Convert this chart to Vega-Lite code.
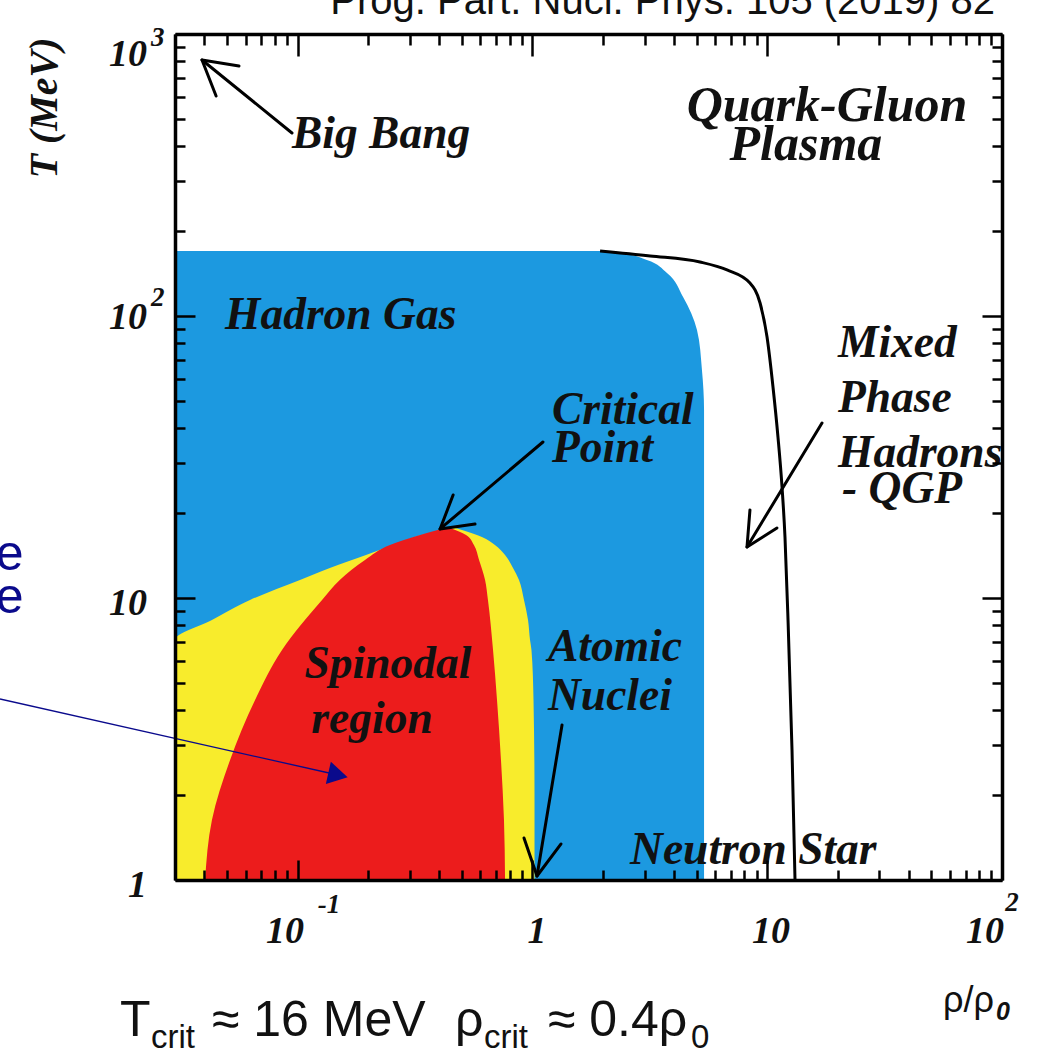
{
  "$schema": "https://vega.github.io/schema/vega-lite/v6.json",
  "width": 827,
  "height": 846,
  "autosize": {"type": "none"},
  "padding": {"left": 175, "top": 34, "right": 60, "bottom": 176},
  "background": "white",
  "config": {"view": {"stroke": null}},
  "datasets": {
    "blue": [
      {"T": 1, "lo": 0.03, "hi": 5.38},
      {"T": 46.4, "lo": 0.03, "hi": 5.38},
      {"T": 64.4, "lo": 0.03, "hi": 5.27},
      {"T": 89.2, "lo": 0.03, "hi": 5.02},
      {"T": 116.8, "lo": 0.03, "hi": 4.38},
      {"T": 142.1, "lo": 0.03, "hi": 3.74},
      {"T": 158, "lo": 0.03, "hi": 3.07},
      {"T": 166, "lo": 0.03, "hi": 2.48},
      {"T": 170.1, "lo": 0.03, "hi": 1.94}
    ],
    "yellow": [
      {"T": 1, "lo": 0.03, "hi": 1.02},
      {"T": 1.922, "lo": 0.03, "hi": 1.02},
      {"T": 4.35, "lo": 0.03, "hi": 1.01},
      {"T": 6.54, "lo": 0.03, "hi": 0.99},
      {"T": 7.1, "lo": 0.03, "hi": 0.976},
      {"T": 8.36, "lo": 0.0431, "hi": 0.957},
      {"T": 9.84, "lo": 0.0626, "hi": 0.92},
      {"T": 11.58, "lo": 0.1022, "hi": 0.876},
      {"T": 12.78, "lo": 0.137, "hi": 0.826},
      {"T": 14.21, "lo": 0.1953, "hi": 0.764},
      {"T": 15.41, "lo": 0.2546, "hi": 0.692},
      {"T": 16.46, "lo": 0.316, "hi": 0.609},
      {"T": 17.42, "lo": 0.404, "hi": 0.501},
      {"T": 17.86, "lo": 0.432, "hi": 0.454}
    ],
    "red": [
      {"T": 1, "lo": 0.0403, "hi": 0.764},
      {"T": 1.632, "lo": 0.0431, "hi": 0.756},
      {"T": 2.665, "lo": 0.0515, "hi": 0.734},
      {"T": 4.35, "lo": 0.0658, "hi": 0.706},
      {"T": 6.54, "lo": 0.0857, "hi": 0.679},
      {"T": 9.84, "lo": 0.1269, "hi": 0.646},
      {"T": 11.58, "lo": 0.151, "hi": 0.628},
      {"T": 13.64, "lo": 0.1934, "hi": 0.592},
      {"T": 15.41, "lo": 0.247, "hi": 0.563},
      {"T": 16.73, "lo": 0.332, "hi": 0.521},
      {"T": 17.71, "lo": 0.424, "hi": 0.4455}
    ],
    "boundary": [
      {"x": 1.94, "T": 170.1},
      {"x": 3.17, "T": 163.3},
      {"x": 5.17, "T": 155.4},
      {"x": 6.74, "T": 145.6},
      {"x": 8.44, "T": 130.9},
      {"x": 9.32, "T": 111.2},
      {"x": 9.98, "T": 84.2},
      {"x": 10.58, "T": 56.0},
      {"x": 11.11, "T": 37.2},
      {"x": 11.56, "T": 24.75},
      {"x": 11.9, "T": 16.46},
      {"x": 12.26, "T": 8.36},
      {"x": 12.75, "T": 2.89},
      {"x": 13.13, "T": 1}
    ],
    "arrows": [
      {"id": "bb_shaft", "o": 1, "x": 0.0945, "T": 445.6},
      {"id": "bb_shaft", "o": 2, "x": 0.0391, "T": 808.9},
      {"id": "bb_head", "o": 1, "x": 0.0449, "T": 602.8},
      {"id": "bb_head", "o": 2, "x": 0.0391, "T": 808.9},
      {"id": "bb_head", "o": 3, "x": 0.0562, "T": 770.1},
      {"id": "cp_shaft", "o": 1, "x": 1.108, "T": 35.74},
      {"id": "cp_shaft", "o": 2, "x": 0.404, "T": 17.57},
      {"id": "cp_head", "o": 1, "x": 0.459, "T": 23.19},
      {"id": "cp_head", "o": 2, "x": 0.404, "T": 17.57},
      {"id": "cp_head", "o": 3, "x": 0.569, "T": 18.3},
      {"id": "mp_shaft", "o": 1, "x": 17.11, "T": 41.75},
      {"id": "mp_shaft", "o": 2, "x": 8.2, "T": 15.17},
      {"id": "mp_head", "o": 1, "x": 8.44, "T": 20.52},
      {"id": "mp_head", "o": 2, "x": 8.2, "T": 15.17},
      {"id": "mp_head", "o": 3, "x": 11.0, "T": 17.71},
      {"id": "an_shaft", "o": 1, "x": 1.336, "T": 3.545},
      {"id": "an_shaft", "o": 2, "x": 1.045, "T": 1.033},
      {"id": "an_head", "o": 1, "x": 1.323, "T": 1.342},
      {"id": "an_head", "o": 2, "x": 1.045, "T": 1.033},
      {"id": "an_head", "o": 3, "x": 0.92, "T": 1.409}
    ],
    "pointer": [
      {"o": 1, "x": 0.00539, "T": 4.385},
      {"o": 2, "x": 0.1484, "T": 2.357}
    ],
    "pointerHead": [
      {"x": 0.1484, "T": 2.357}
    ],
    "leftLabels": [
      {"text": "Big Bang", "x": 0.0945, "T": 394},
      {"text": "Hadron Gas", "x": 0.049, "T": 89.96},
      {"text": "Critical", "x": 1.211, "T": 41.4},
      {"text": "Point", "x": 1.211, "T": 30.36},
      {"text": "Mixed", "x": 20.02, "T": 71.55},
      {"text": "Phase", "x": 20.02, "T": 45.66},
      {"text": "Hadrons", "x": 20.02, "T": 29.14},
      {"text": "- QGP", "x": 20.82, "T": 21.73},
      {"text": "Atomic", "x": 1.164, "T": 5.98},
      {"text": "Nuclei", "x": 1.164, "T": 4.01},
      {"text": "Neutron Star", "x": 2.603, "T": 1.14}
    ],
    "centerLabels": [
      {"text": "Spinodal", "x": 0.2424, "T": 5.204},
      {"text": "region", "x": 0.2072, "T": 3.321}
    ],
    "bigLabels": [
      {"text": "Quark-Gluon", "x": 17.97, "T": 491.5},
      {"text": "Plasma", "x": 14.62, "T": 357.5}
    ],
    "yTickBase": [
      {"text": "10", "x": 0.0228, "T": 842.5},
      {"text": "10", "x": 0.0228, "T": 98.4},
      {"text": "10", "x": 0.0228, "T": 9.52},
      {"text": "1", "x": 0.0228, "T": 0.952}
    ],
    "yTickSup": [
      {"text": "3", "x": 0.0237, "T": 968},
      {"text": "2", "x": 0.0237, "T": 115.8}
    ],
    "xTickBase": [
      {"text": "10", "x": 0.0883, "T": 0.654},
      {"text": "1", "x": 1.045, "T": 0.654},
      {"text": "10", "x": 10.38, "T": 0.654},
      {"text": "10", "x": 84.6, "T": 0.654}
    ],
    "xTickSup": [
      {"text": "-1", "x": 0.136, "T": 0.815},
      {"text": "2", "x": 110.3, "T": 0.829}
    ],
    "yTitle": [
      {"text": "T (MeV)", "x": 0.00838, "T": 546.6}
    ],
    "citation": [
      {"text": "Prog. Part. Nucl. Phys. 105 (2019) 82", "x": 93.4, "T": 1177}
    ],
    "formulaMain": [
      {"text": "T", "x": 0.0175, "T": 0.2798},
      {"text": "≈ 16 MeV", "x": 0.0431, "T": 0.2798},
      {"text": "ρ", "x": 0.4677, "T": 0.2798},
      {"text": "≈ 0.4ρ", "x": 1.164, "T": 0.2798}
    ],
    "formulaSub": [
      {"text": "crit", "x": 0.0237, "T": 0.2537},
      {"text": "crit", "x": 0.6216, "T": 0.2537},
      {"text": "0", "x": 4.73, "T": 0.2537}
    ],
    "xTitle": [
      {"text": "ρ/ρ", "x": 92.5, "T": 0.34}
    ],
    "xTitleSub": [
      {"text": "0", "x": 94.3, "T": 0.3188}
    ],
    "sideNote": [
      {"text": "e", "x": 0.0068, "T": 12.57},
      {"text": "e", "x": 0.0068, "T": 8.85}
    ]
  },
  "encoding": {
    "x": {"field": "x", "type": "quantitative", "scale": {"type": "log", "domain": [0.03, 100], "nice": false}, "axis": null},
    "y": {"field": "T", "type": "quantitative", "scale": {"type": "log", "domain": [1, 1000], "nice": false}, "axis": null}
  },
  "layer": [
    {
      "data": {"name": "blue"},
      "mark": {"type": "area", "orient": "horizontal", "interpolate": "monotone", "color": "#1c99e0", "clip": true},
      "encoding": {
        "x": {"field": "lo", "type": "quantitative", "scale": {"type": "log", "domain": [0.03, 100], "nice": false},
          "axis": {"orient": "bottom", "values": [0.03,0.04,0.05,0.06,0.07,0.08,0.09,0.1,0.2,0.3,0.4,0.5,0.6,0.7,0.8,0.9,1,2,3,4,5,6,7,8,9,10,20,30,40,50,60,70,80,90,100],
            "labels": false, "title": null, "grid": false, "domain": true, "domainColor": "black", "domainWidth": 3.5,
            "tickColor": "black", "tickWidth": 2.5,
            "tickSize": {"condition": {"test": "datum.value==0.1||datum.value==1||datum.value==10||datum.value==100", "value": -20}, "value": -10},
            "zindex": 2}},
        "x2": {"field": "hi"},
        "y": {"field": "T", "type": "quantitative", "scale": {"type": "log", "domain": [1, 1000], "nice": false},
          "axis": {"orient": "left", "values": [1,2,3,4,5,6,7,8,9,10,20,30,40,50,60,70,80,90,100,200,300,400,500,600,700,800,900,1000],
            "labels": false, "title": null, "grid": false, "domain": true, "domainColor": "black", "domainWidth": 3.5,
            "tickColor": "black", "tickWidth": 2.5,
            "tickSize": {"condition": {"test": "datum.value==1||datum.value==10||datum.value==100||datum.value==1000", "value": -20}, "value": -10},
            "zindex": 2}}
      }
    },
    {
      "data": {"name": "yellow"},
      "mark": {"type": "area", "orient": "horizontal", "interpolate": "monotone", "color": "#f8ec2c", "clip": true},
      "encoding": {
        "x": {"field": "lo", "type": "quantitative", "scale": {"type": "log", "domain": [0.03, 100], "nice": false},
          "axis": {"orient": "top", "values": [0.03,0.04,0.05,0.06,0.07,0.08,0.09,0.1,0.2,0.3,0.4,0.5,0.6,0.7,0.8,0.9,1,2,3,4,5,6,7,8,9,10,20,30,40,50,60,70,80,90,100],
            "labels": false, "title": null, "grid": false, "domain": true, "domainColor": "black", "domainWidth": 3.5,
            "tickColor": "black", "tickWidth": 2.5,
            "tickSize": {"condition": {"test": "datum.value==0.1||datum.value==1||datum.value==10||datum.value==100", "value": -22}, "value": -11},
            "zindex": 2}},
        "x2": {"field": "hi"},
        "y": {"field": "T", "type": "quantitative", "scale": {"type": "log", "domain": [1, 1000], "nice": false},
          "axis": {"orient": "right", "values": [1,2,3,4,5,6,7,8,9,10,20,30,40,50,60,70,80,90,100,200,300,400,500,600,700,800,900,1000],
            "labels": false, "title": null, "grid": false, "domain": true, "domainColor": "black", "domainWidth": 3.5,
            "tickColor": "black", "tickWidth": 2.5,
            "tickSize": {"condition": {"test": "datum.value==1||datum.value==10||datum.value==100||datum.value==1000", "value": -20}, "value": -10},
            "zindex": 2}}
      }
    },
    {
      "data": {"name": "red"},
      "mark": {"type": "area", "orient": "horizontal", "interpolate": "monotone", "color": "#ec1c1c", "clip": true},
      "encoding": {
        "x": {"field": "lo", "type": "quantitative", "scale": {"type": "log", "domain": [0.03, 100], "nice": false}, "axis": null},
        "x2": {"field": "hi"}
      }
    },
    {
      "data": {"name": "boundary"},
      "mark": {"type": "line", "interpolate": "monotone", "color": "black", "strokeWidth": 3, "clip": true},
      "encoding": {}
    },
    {
      "data": {"name": "arrows"},
      "mark": {"type": "line", "color": "black", "strokeWidth": 3, "strokeCap": "round", "strokeJoin": "round"},
      "encoding": {
        "detail": {"field": "id", "type": "nominal"},
        "order": {"field": "o", "type": "quantitative"}
      }
    },
    {
      "data": {"name": "pointer"},
      "mark": {"type": "line", "color": "#0a0a8c", "strokeWidth": 1.3},
      "encoding": {"order": {"field": "o", "type": "quantitative"}}
    },
    {
      "data": {"name": "pointerHead"},
      "mark": {"type": "point", "shape": "triangle-right", "filled": true, "color": "#0a0a8c", "opacity": 1, "size": 520, "angle": 12.6},
      "encoding": {}
    },
    {
      "data": {"name": "leftLabels"},
      "mark": {"type": "text", "align": "left", "baseline": "alphabetic", "font": "Liberation Serif", "fontStyle": "italic", "fontWeight": "bold", "fontSize": 45.5, "color": "#111111"},
      "encoding": {"text": {"field": "text", "type": "nominal"}}
    },
    {
      "data": {"name": "centerLabels"},
      "mark": {"type": "text", "align": "center", "baseline": "alphabetic", "font": "Liberation Serif", "fontStyle": "italic", "fontWeight": "bold", "fontSize": 45.5, "color": "#111111"},
      "encoding": {"text": {"field": "text", "type": "nominal"}}
    },
    {
      "data": {"name": "bigLabels"},
      "mark": {"type": "text", "align": "center", "baseline": "alphabetic", "font": "Liberation Serif", "fontStyle": "italic", "fontWeight": "bold", "fontSize": 50, "color": "#111111"},
      "encoding": {"text": {"field": "text", "type": "nominal"}}
    },
    {
      "data": {"name": "yTickBase"},
      "mark": {"type": "text", "align": "right", "baseline": "middle", "font": "Liberation Serif", "fontStyle": "italic", "fontWeight": "bold", "fontSize": 38, "color": "#111111"},
      "encoding": {"text": {"field": "text", "type": "nominal"}}
    },
    {
      "data": {"name": "yTickSup"},
      "mark": {"type": "text", "align": "left", "baseline": "middle", "font": "Liberation Serif", "fontStyle": "italic", "fontWeight": "bold", "fontSize": 27, "color": "#111111"},
      "encoding": {"text": {"field": "text", "type": "nominal"}}
    },
    {
      "data": {"name": "xTickBase"},
      "mark": {"type": "text", "align": "center", "baseline": "middle", "font": "Liberation Serif", "fontStyle": "italic", "fontWeight": "bold", "fontSize": 38, "color": "#111111"},
      "encoding": {"text": {"field": "text", "type": "nominal"}}
    },
    {
      "data": {"name": "xTickSup"},
      "mark": {"type": "text", "align": "center", "baseline": "middle", "font": "Liberation Serif", "fontStyle": "italic", "fontWeight": "bold", "fontSize": 27, "color": "#111111"},
      "encoding": {"text": {"field": "text", "type": "nominal"}}
    },
    {
      "data": {"name": "yTitle"},
      "mark": {"type": "text", "align": "center", "baseline": "middle", "angle": 270, "font": "Liberation Serif", "fontStyle": "italic", "fontWeight": "bold", "fontSize": 40, "color": "#111111"},
      "encoding": {"text": {"field": "text", "type": "nominal"}}
    },
    {
      "data": {"name": "citation"},
      "mark": {"type": "text", "align": "right", "baseline": "alphabetic", "font": "Liberation Sans", "fontSize": 40, "color": "#111111"},
      "encoding": {"text": {"field": "text", "type": "nominal"}}
    },
    {
      "data": {"name": "formulaMain"},
      "mark": {"type": "text", "align": "left", "baseline": "alphabetic", "font": "Liberation Sans", "fontSize": 50, "color": "#111111"},
      "encoding": {"text": {"field": "text", "type": "nominal"}}
    },
    {
      "data": {"name": "formulaSub"},
      "mark": {"type": "text", "align": "left", "baseline": "alphabetic", "font": "Liberation Sans", "fontSize": 33, "color": "#111111"},
      "encoding": {"text": {"field": "text", "type": "nominal"}}
    },
    {
      "data": {"name": "xTitle"},
      "mark": {"type": "text", "align": "right", "baseline": "alphabetic", "font": "Liberation Sans", "fontSize": 36, "color": "#111111"},
      "encoding": {"text": {"field": "text", "type": "nominal"}}
    },
    {
      "data": {"name": "xTitleSub"},
      "mark": {"type": "text", "align": "left", "baseline": "alphabetic", "font": "Liberation Sans", "fontStyle": "italic", "fontWeight": "bold", "fontSize": 25, "color": "#111111"},
      "encoding": {"text": {"field": "text", "type": "nominal"}}
    },
    {
      "data": {"name": "sideNote"},
      "mark": {"type": "text", "align": "right", "baseline": "alphabetic", "font": "Liberation Sans", "fontSize": 50, "color": "#0a0a8c"},
      "encoding": {"text": {"field": "text", "type": "nominal"}}
    }
  ],
  "resolve": {"axis": {"x": "independent", "y": "independent"}}
}
